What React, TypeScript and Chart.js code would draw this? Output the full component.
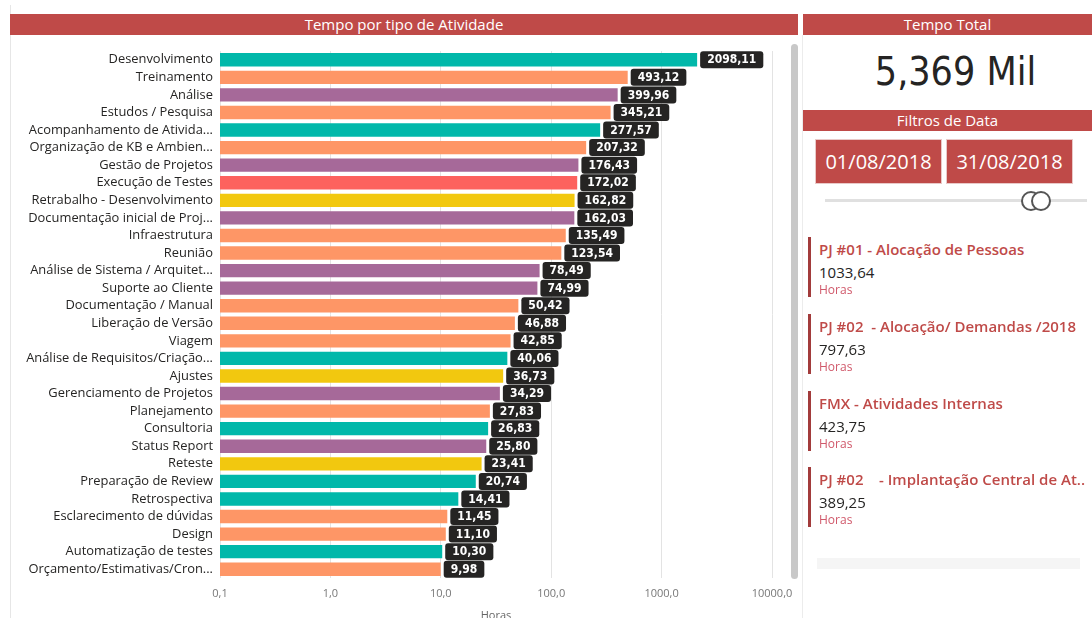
import React, { useEffect, useRef } from "react";
import { Chart, registerables } from "chart.js";

Chart.register(...registerables);

const categories = [
  "Desenvolvimento",
  "Treinamento",
  "Análise",
  "Estudos / Pesquisa",
  "Acompanhamento de Ativida...",
  "Organização de KB e Ambien...",
  "Gestão de Projetos",
  "Execução de Testes",
  "Retrabalho - Desenvolvimento",
  "Documentação inicial de Proj...",
  "Infraestrutura",
  "Reunião",
  "Análise de Sistema / Arquitet...",
  "Suporte ao Cliente",
  "Documentação / Manual",
  "Liberação de Versão",
  "Viagem",
  "Análise de Requisitos/Criação...",
  "Ajustes",
  "Gerenciamento de Projetos",
  "Planejamento",
  "Consultoria",
  "Status Report",
  "Reteste",
  "Preparação de Review",
  "Retrospectiva",
  "Esclarecimento de dúvidas",
  "Design",
  "Automatização de testes",
  "Orçamento/Estimativas/Cron...",
];

const hours = [
  2098.11, 493.12, 399.96, 345.21, 277.57, 207.32, 176.43, 172.02, 162.82, 162.03,
  135.49, 123.54, 78.49, 74.99, 50.42, 46.88, 42.85, 40.06, 36.73, 34.29,
  27.83, 26.83, 25.8, 23.41, 20.74, 14.41, 11.45, 11.1, 10.3, 9.98,
];

const TEAL = "#01B8AA";
const ORANGE = "#FE9666";
const PURPLE = "#A66999";
const RED = "#FD625E";
const YELLOW = "#F2C80F";

const barColors = [
  TEAL, ORANGE, PURPLE, ORANGE, TEAL, ORANGE, PURPLE, RED, YELLOW, PURPLE,
  ORANGE, ORANGE, PURPLE, PURPLE, ORANGE, ORANGE, ORANGE, TEAL, YELLOW, PURPLE,
  ORANGE, TEAL, PURPLE, YELLOW, TEAL, TEAL, ORANGE, ORANGE, TEAL, ORANGE,
];

const tickValues = [0.1, 1, 10, 100, 1000, 10000];
const tickLabels = ["0,1", "1,0", "10,0", "100,0", "1000,0", "10000,0"];

const chartTitle = "Tempo por tipo de Atividade";
const totalTitle = "Tempo Total";
const totalLabel = "5,369 Mil";
const filterTitle = "Filtros de Data";
const dateFrom = "01/08/2018";
const dateTo = "31/08/2018";

const projectNames = [
  "PJ #01 - Alocação de Pessoas",
  "PJ #02  - Alocação/ Demandas /2018",
  "FMX - Atividades Internas",
  "PJ #02    - Implantação Central de At..",
];
const projectHours = ["1033,64", "797,63", "423,75", "389,25"];
const projectUnit = "Horas";

const HEADER = "#BF4A48";
const UI_FONT = '"Open Sans", "Noto Sans", sans-serif';

const fmt = (v: number) => v.toFixed(2).replace(".", ",");

const valueBoxes = {
  id: "valueBoxes",
  afterDatasetsDraw(chart: any) {
    const ctx = chart.ctx;
    const meta = chart.getDatasetMeta(0);
    ctx.save();
    ctx.font = 'bold 12px "DejaVu Sans Condensed", "DejaVu Sans", sans-serif';
    ctx.textBaseline = "middle";
    ctx.textAlign = "left";
    meta.data.forEach((el: any, i: number) => {
      const text = fmt(hours[i]);
      const tw = ctx.measureText(text).width;
      const w = tw + 14;
      const h = 17;
      const x = el.x + 3;
      const y = el.y - h / 2;
      ctx.fillStyle = "#252423";
      ctx.beginPath();
      ctx.roundRect(x, y, w, h, 3);
      ctx.fill();
      ctx.fillStyle = "#ffffff";
      ctx.fillText(text, x + 7, el.y + 0.5);
    });
    ctx.restore();
  },
};

function BarChart() {
  const ref = useRef<HTMLCanvasElement>(null);
  useEffect(() => {
    if (!ref.current) return;
    const chart = new Chart(ref.current, {
      type: "bar",
      data: {
        labels: categories,
        datasets: [
          {
            data: hours,
            backgroundColor: barColors,
            borderWidth: 0,
            categoryPercentage: 1,
            barPercentage: 0.76,
          },
        ],
      },
      options: {
        indexAxis: "y",
        responsive: false,
        animation: false,
        devicePixelRatio: 1,
        layout: { padding: { top: 15, right: 23, left: 0, bottom: 0 } },
        plugins: {
          legend: { display: false },
          tooltip: { enabled: false },
        },
        scales: {
          x: {
            type: "logarithmic",
            min: 0.1,
            max: 10000,
            afterBuildTicks: (scale: any) => {
              scale.ticks = tickValues.map((v) => ({ value: v }));
            },
            afterFit: (scale: any) => {
              scale.height = 48;
              scale.paddingRight = 0;
              scale.paddingLeft = 0;
            },
            ticks: {
              autoSkip: false,
              maxRotation: 0,
              padding: 9,
              color: "#777777",
              font: { family: UI_FONT, size: 11 },
              callback: (_v: any, i: number) => tickLabels[i],
            },
            grid: { color: "#e3e3e3", drawTicks: false, lineWidth: 1 },
            border: { display: false },
            title: {
              display: true,
              text: "Horas",
              color: "#666666",
              font: { family: UI_FONT, size: 11 },
              padding: { top: 0, bottom: 4 },
            },
          },
          y: {
            afterFit: (scale: any) => {
              scale.width = 210;
            },
            ticks: {
              autoSkip: false,
              padding: 7,
              color: "#252423",
              font: { family: UI_FONT, size: 12.9 },
            },
            grid: { display: false, drawTicks: false },
            border: { display: false },
          },
        },
      },
      plugins: [valueBoxes],
    } as any);
    return () => chart.destroy();
  }, []);
  return (
    <canvas
      ref={ref}
      width={785}
      height={590}
      style={{ position: "absolute", left: 10, top: 36, width: 785, height: 590 }}
    />
  );
}

const abs = (s: React.CSSProperties): React.CSSProperties => ({ position: "absolute", ...s });

const headerStyle = (left: number, top: number, width: number): React.CSSProperties =>
  abs({
    left,
    top,
    width,
    height: 21,
    background: HEADER,
    color: "#ffffff",
    font: `15px ${UI_FONT}`,
    lineHeight: "21px",
    textAlign: "center",
  });

const cardTops = [237, 314, 391, 467];

export default function App() {
  return (
    <div
      style={{
        position: "fixed",
        left: 0,
        top: 0,
        width: 1092,
        height: 618,
        overflow: "hidden",
        background: "#ffffff",
        fontFamily: UI_FONT,
      }}
    >
      <div style={abs({ left: 10, top: 5, width: 1, height: 613, background: "#e6e6e6" })} />
      <div style={abs({ left: 802, top: 35, width: 1, height: 583, background: "#ececec" })} />
      <BarChart />
      <div style={headerStyle(10, 14, 788)}>{chartTitle}</div>
      <div style={abs({ left: 791, top: 44, width: 7, height: 535, background: "#c8c8c8", borderRadius: 4 })} />

      <div style={headerStyle(803, 14, 289)}>{totalTitle}</div>
      <div
        style={abs({
          left: 803,
          top: 44,
          width: 305,
          height: 56,
          textAlign: "center",
          font: '39px "DejaVu Sans Condensed", "DejaVu Sans", sans-serif',
          lineHeight: "56px",
          color: "#252423",
        })}
      >
        {totalLabel}
      </div>
      <div style={headerStyle(803, 110, 289)}>{filterTitle}</div>
      {[dateFrom, dateTo].map((d, i) => (
        <div
          key={d}
          style={abs({
            left: i === 0 ? 815 : 946,
            top: 139,
            width: 125,
            height: 43,
            background: HEADER,
            border: "1px solid #e9c9c8",
            color: "#ffffff",
            font: `20px ${UI_FONT}`,
            lineHeight: "43px",
            textAlign: "center",
          })}
        >
          {d}
        </div>
      ))}
      <div style={abs({ left: 825, top: 199, width: 262, height: 3, background: "#e0e0e0" })} />
      <div
        style={abs({
          left: 1021,
          top: 191,
          width: 16,
          height: 16,
          borderRadius: 10,
          border: "2px solid #555555",
          background: "#ffffff",
        })}
      />
      <div
        style={abs({
          left: 1031,
          top: 191,
          width: 16,
          height: 16,
          borderRadius: 10,
          border: "2px solid #555555",
          background: "#ffffff",
        })}
      />

      {projectNames.map((name, i) => {
        const t = cardTops[i];
        return (
          <React.Fragment key={name}>
            <div style={abs({ left: 808, top: t, width: 3, height: 60, background: "#A23B3B" })} />
            <div
              style={abs({
                left: 819,
                top: t + 1,
                width: 273,
                height: 22,
                whiteSpace: "pre",
                overflow: "hidden",
                font: `600 15px ${UI_FONT}`,
                lineHeight: "22px",
                color: "#BF4A48",
              })}
            >
              {name}
            </div>
            <div
              style={abs({
                left: 819,
                top: t + 25,
                font: `15px ${UI_FONT}`,
                lineHeight: "20px",
                color: "#252423",
              })}
            >
              {projectHours[i]}
            </div>
            <div
              style={abs({
                left: 819,
                top: t + 45,
                font: `12px ${UI_FONT}`,
                lineHeight: "16px",
                color: "#D0586A",
              })}
            >
              {projectUnit}
            </div>
          </React.Fragment>
        );
      })}
      <div style={abs({ left: 817, top: 558, width: 263, height: 11, background: "#f5f5f5" })} />
    </div>
  );
}
